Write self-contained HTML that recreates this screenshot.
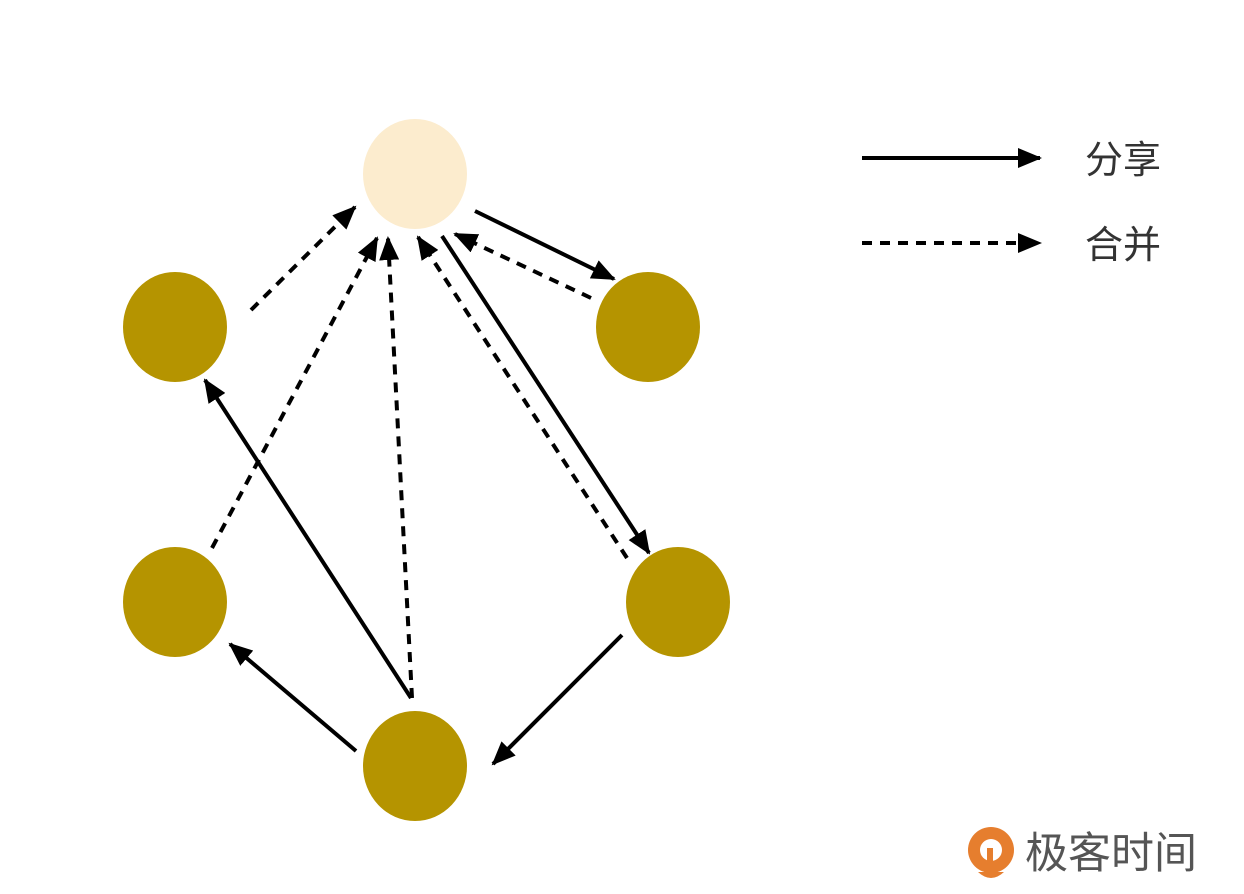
<!DOCTYPE html>
<html><head><meta charset="utf-8"><style>
html,body{margin:0;padding:0;background:#fff;}
svg{display:block;}
</style></head><body>
<svg width="1244" height="894" viewBox="0 0 1244 894" xmlns="http://www.w3.org/2000/svg">
<defs>
<marker id="a" markerUnits="userSpaceOnUse" markerWidth="24" markerHeight="20" refX="22" refY="10" orient="auto">
<path d="M0,0 L24,10 L0,20 z" fill="#000"/>
</marker>
</defs>
<ellipse cx="415" cy="174" rx="52" ry="55" fill="#fcecce"/>
<g fill="#b59400">
<ellipse cx="175" cy="327" rx="52" ry="55"/>
<ellipse cx="648" cy="327" rx="52" ry="55"/>
<ellipse cx="175" cy="602" rx="52" ry="55"/>
<ellipse cx="678" cy="602" rx="52" ry="55"/>
<ellipse cx="415" cy="766" rx="52" ry="55"/>
</g>
<g stroke="#000" stroke-width="4" fill="none" marker-end="url(#a)">
<line x1="475" y1="211" x2="614" y2="279"/>
<line x1="442" y1="236" x2="649" y2="553"/>
<line x1="622" y1="635" x2="493" y2="764"/>
<line x1="411" y1="698" x2="205" y2="380"/>
<line x1="356" y1="751" x2="230" y2="644"/>
<line x1="862" y1="158" x2="1040" y2="158"/>
</g>
<g stroke="#000" stroke-width="4" fill="none" stroke-dasharray="10,8" marker-end="url(#a)">
<line x1="251" y1="310" x2="355" y2="207"/>
<line x1="212" y1="548" x2="377" y2="238"/>
<line x1="412" y1="698" x2="388" y2="238"/>
<line x1="627" y1="558" x2="418" y2="237"/>
<line x1="591" y1="298" x2="455" y2="234"/>
<line x1="862" y1="243" x2="1040" y2="243"/>
</g>
<g font-family="Liberation Sans, Noto Sans CJK SC, sans-serif" font-size="38" fill="#333">
<text x="1085" y="173">分享</text>
<text x="1085" y="258">合并</text>
</g>
<g>
<circle cx="991" cy="850" r="23" fill="#e67e2e"/>
<circle cx="991" cy="850" r="11" fill="#fff"/>
<path d="M978,872 Q991,884 1004,872 Z" fill="#e67e2e"/>
<rect x="987" y="848" width="6" height="20" fill="#e67e2e"/>
<text x="1025" y="868" font-family="Liberation Sans, Noto Sans CJK SC, sans-serif" font-size="43" fill="#555">极客时间</text>
</g>
</svg>
</body></html>
